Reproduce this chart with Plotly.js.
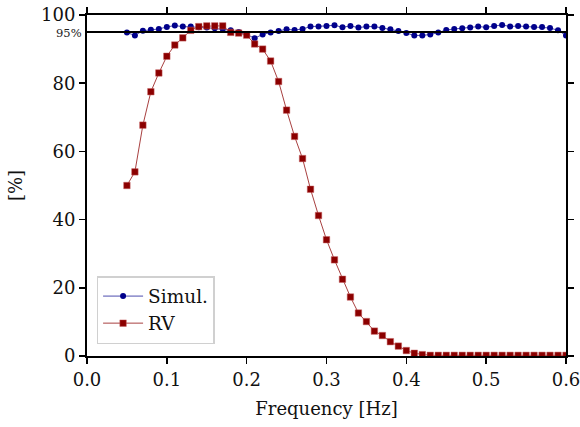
<!DOCTYPE html>
<html>
<head>
<meta charset="utf-8">
<script src="https://cdn.plot.ly/plotly-3.0.1.min.js"></script>
<style>html,body{margin:0;padding:0;background:#fff;}#chart{width:580px;height:427px;}</style>
</head>
<body>
<div id="chart"></div>
<script>
const frequency = [0.05,0.06,0.07,0.08,0.09,0.10,0.11,0.12,0.13,0.14,0.15,0.16,0.17,0.18,0.19,0.20,0.21,0.22,0.23,0.24,0.25,0.26,0.27,0.28,0.29,0.30,0.31,0.32,0.33,0.34,0.35,0.36,0.37,0.38,0.39,0.40,0.41,0.42,0.43,0.44,0.45,0.46,0.47,0.48,0.49,0.50,0.51,0.52,0.53,0.54,0.55,0.56,0.57,0.58,0.59,0.60];
const simul = [94.85,94.0,95.4,95.7,95.9,96.5,96.9,96.6,96.6,96.4,96.3,96.1,95.9,95.5,95.0,94.3,93.2,94.3,94.9,95.3,95.8,95.6,95.9,96.6,96.6,96.8,97.0,96.4,96.8,96.3,96.6,96.6,96.2,95.8,95.3,94.7,94.0,94.0,94.3,94.85,95.6,95.9,96.1,96.3,96.6,96.4,96.8,97.1,96.6,96.8,96.6,96.5,96.5,96.2,95.5,94.0];
const rv = [50.0,54.0,67.7,77.5,83.0,87.9,91.2,93.3,95.5,96.6,96.8,96.8,96.8,94.9,94.7,94.1,91.5,90.0,86.5,80.5,72.1,64.4,57.9,48.9,41.2,34.1,28.2,22.5,17.3,12.6,10.1,7.3,6.0,4.2,2.9,1.6,0.8,0.4,0.2,0.2,0.2,0.2,0.2,0.2,0.2,0.2,0.2,0.2,0.2,0.2,0.2,0.2,0.2,0.2,0.2,0.2];
const seriesNames = ["Simul.", "RV"];
const xTicks = [0.0,0.1,0.2,0.3,0.4,0.5,0.6];
const yTicks = [0,20,40,60,80,100];
const thresholdValue = 95;
const thresholdLabel = "95%";

const font = "DejaVu Serif, Liberation Serif, serif";

const traces = [
  {x: frequency, y: simul, name: seriesNames[0], mode: "lines+markers", type: "scatter",
   line: {color: "rgba(0,0,139,0.7)", width: 1},
   marker: {symbol: "circle", size: 6, color: "#00008b"}},
  {x: frequency, y: rv, name: seriesNames[1], mode: "lines+markers", type: "scatter",
   line: {color: "rgba(139,0,0,0.75)", width: 1},
   marker: {symbol: "square", size: 6.5, color: "#8b0000", line: {color: "rgba(200,100,100,0.6)", width: 0.8}}}
];

const axisCommon = {
  showline: true, linecolor: "#000", linewidth: 2, mirror: "ticks",
  ticks: "outside", ticklen: 6, tickwidth: 1.6, tickcolor: "#000",
  showgrid: false, zeroline: false, automargin: false, ticklabeloverflow: "allow",
  tickfont: {family: font, size: 18, color: "#111"}
};

const layout = {
  width: 580, height: 427,
  margin: {l: 87, r: 14, t: 15, b: 70.5},
  paper_bgcolor: "#fff", plot_bgcolor: "#fff",
  showlegend: true,
  legend: {x: 0.02, y: 0.035, xanchor: "left", yanchor: "bottom",
           bgcolor: "#fff", bordercolor: "#d0d0d0", borderwidth: 1.5,
           font: {family: font, size: 18.5, color: "#111"}, tracegroupgap: 6,
           itemwidth: 40},
  xaxis: Object.assign({}, axisCommon, {
    range: [0, 0.6], tickvals: xTicks, tickformat: ".1f",
    title: {text: "Frequency [Hz]", font: {family: font, size: 18, color: "#111"}, standoff: 14}
  }),
  yaxis: Object.assign({}, axisCommon, {
    range: [0, 100], tickvals: yTicks,
    title: {text: "[%]", font: {family: font, size: 18, color: "#111"}, standoff: 14}
  }),
  shapes: [{type: "line", xref: "paper", x0: 0, x1: 1, yref: "y", y0: thresholdValue, y1: thresholdValue,
            line: {color: "#000", width: 2}}],
  annotations: [{xref: "paper", x: 0, yref: "y", y: thresholdValue, text: thresholdLabel,
                 showarrow: false, xanchor: "right", yanchor: "middle", xshift: -3, yshift: -1,
                 font: {family: font, size: 11.5, color: "#222"}}]
};

Plotly.newPlot("chart", traces, layout, {displayModeBar: false, staticPlot: true});
</script>
</body>
</html>
